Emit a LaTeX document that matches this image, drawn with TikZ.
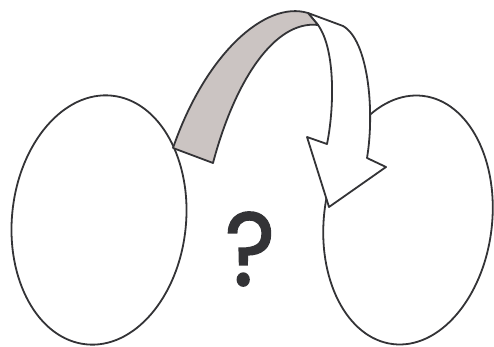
\documentclass[tikz,border=0pt]{standalone}
\usepackage{fontspec}
\newfontfamily\qfont[FakeBold=1.6]{Poppins}
\definecolor{ink}{HTML}{333336}
\definecolor{band}{HTML}{CBC4C2}
\tikzset{
  outline/.style={draw=ink, line width=1.8pt, line join=round},
}
\begin{document}
\begin{tikzpicture}[x=1pt,y=-1pt]
\useasboundingbox (0,0) rectangle (494,347);
% ellipses
\draw[outline, fill=white, rotate around={-6:(99,220)}] (99,220) ellipse [x radius=87, y radius=125];
\draw[outline, fill=white, rotate around={-7:(408,220)}] (408,220) ellipse [x radius=84, y radius=125];
% white arrow part
\draw[outline, fill=white] (308,13) -- (343,26)
  .. controls (368,40) and (375,110) .. (367,158)
  -- (386,167) -- (329,207) -- (307,137) -- (327,144)
  .. controls (334,110) and (336,50) .. (318,25) -- cycle;
% gray band
\draw[outline, fill=band] (173,148) .. controls (205,55) and (265,0) .. (308,13)
  -- (318,25) .. controls (275,20) and (235,80) .. (213,163) -- cycle;
% question mark
\node[text=ink, xscale=0.92, font={\qfont\fontsize{104}{104}\selectfont}] (q) at (250,249) {?};
\end{tikzpicture}
\end{document}
